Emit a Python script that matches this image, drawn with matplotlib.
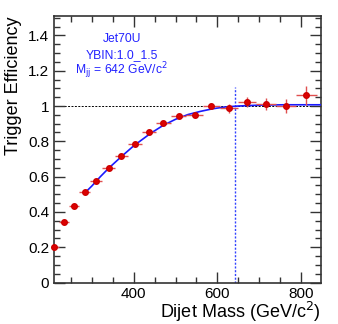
import matplotlib
matplotlib.use("Agg")
import matplotlib.pyplot as plt
from matplotlib.ticker import MultipleLocator, FuncFormatter

plt.rcParams['font.family'] = ['Liberation Sans', 'DejaVu Sans']

# Data (bin centres, half widths, efficiency, errors)
mass = [208.5, 232, 257, 283, 310.5, 339.5, 370, 402.5, 436, 471, 507.5,
        545.5, 585.5, 627.5, 671, 716.5, 764, 813]
half_width = [11.5, 12, 13, 13, 14.5, 14.5, 16, 16.5, 17, 18, 18.5,
              19.5, 20.5, 21.5, 22, 23.5, 24, 25]
eff = [0.203, 0.341, 0.433, 0.511, 0.575, 0.649, 0.715, 0.783, 0.851, 0.904,
       0.943, 0.951, 0.998, 0.987, 1.023, 1.010, 1.000, 1.061]
eff_err = [0.003, 0.004, 0.004, 0.005, 0.005, 0.006, 0.006, 0.006, 0.006,
           0.007, 0.008, 0.010, 0.017, 0.024, 0.026, 0.035, 0.042, 0.053]

# Fit curve
fit_x = [283, 300, 320, 340, 370, 400, 440, 470, 500, 530, 560, 590, 620,
         650, 700, 760, 848]
fit_y = [0.508, 0.548, 0.600, 0.648, 0.713, 0.775, 0.845, 0.890, 0.925,
         0.952, 0.970, 0.985, 0.995, 1.000, 1.005, 1.007, 1.007]

mjj_cut = 642
labels = ["Jet70U", "YBIN:1.0_1.5", r"M$_{\rm jj}$ = 642 GeV/c$^{2}$"]

fig = plt.figure(figsize=(3.38, 3.24), dpi=100)
ax = fig.add_axes([0.1598, 0.128, 0.7899, 0.8226])

ax.axhline(1.0, color='black', lw=0.7, ls=(0, (2, 1.5)), zorder=1)
ax.plot([mjj_cut, mjj_cut], [0, 1.108], color='#3344ff', lw=1.0,
        ls=(0, (1.5, 1.2)), zorder=2)
ax.plot(fit_x, fit_y, color='#1a1aff', lw=1.2, zorder=3)
ax.errorbar(mass, eff, xerr=half_width, yerr=eff_err, fmt='none',
            ecolor='#e05050', elinewidth=1.0, capsize=0, zorder=4)
ax.plot(mass, eff, 'o', color='#dd0000', ms=4.0, mec='#cc0000', zorder=5,
        clip_on=False)

ax.set_xlim(209, 848)
ax.set_ylim(0, 1.51)

ax.xaxis.set_major_locator(MultipleLocator(200))
ax.xaxis.set_minor_locator(MultipleLocator(50))
ax.yaxis.set_major_locator(MultipleLocator(0.2))
ax.yaxis.set_minor_locator(MultipleLocator(0.05))
ax.yaxis.set_major_formatter(FuncFormatter(lambda v, p: ('%g' % round(v, 2))))
ax.tick_params(which='both', direction='in', top=True, right=True,
               labelsize=11, color='#333333')
ax.tick_params(which='major', length=8, width=1)
ax.tick_params(which='minor', length=4, width=1)
for s in ax.spines.values():
    s.set_color('#333333')
    s.set_linewidth(1.2)

ax.set_xlabel(r'Dijet Mass (GeV/c$^{2}$)', fontsize=13, loc='right',
              labelpad=-1)
ax.set_ylabel('Trigger Efficiency', fontsize=13, loc='top', labelpad=4)

for i, t in enumerate(labels):
    ax.text(0.254, 0.915 - i * 0.061, t, transform=ax.transAxes,
            ha='center', va='center', color='#2222ff', fontsize=8.7)

fig.savefig('out.png', dpi=100)
